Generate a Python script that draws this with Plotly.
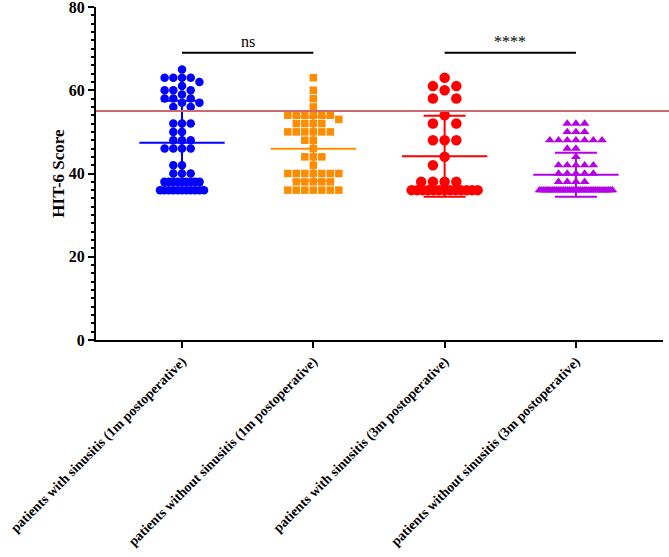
import plotly.graph_objects as go
from collections import Counter
import math

# ---------------- data ----------------
categories = [
    "patients with sinusitis (1m postoperative)",
    "patients without sinusitis (1m postoperative)",
    "patients with sinusitis (3m postoperative)",
    "patients without sinusitis (3m postoperative)",
]

# HIT-6 scores (distinct values) and how many patients had each
blue_scores = [65, 63, 62, 61, 60, 59, 58, 57, 56, 52, 50, 48, 46, 42, 40, 38, 36]
blue_counts = [1, 4, 1, 1, 3, 1, 3, 2, 2, 3, 2, 3, 4, 2, 3, 9, 11]

orange_scores = [63, 60, 58, 56, 54, 53, 52, 50, 48, 46, 44, 42, 40, 38, 36]
orange_counts = [1, 1, 1, 1, 6, 1, 4, 6, 2, 1, 3, 1, 7, 5, 7]

red_scores = [63, 61, 60, 58, 54, 52, 48, 44, 42, 38, 36]
red_counts = [1, 2, 1, 2, 1, 2, 3, 1, 1, 4, 13]

purple_scores = [52, 50, 48, 46, 44, 42, 40, 38, 36]
purple_counts = [3, 3, 7, 2, 1, 5, 5, 4, 40]

threshold = 55
comparisons = [(0, 1, "ns"), (2, 3, "****")]
comparison_level = 69

y_title = "HIT-6 Score"

# ---------------- styling ----------------
colors = ["#0000FF", "#FF8C00", "#FF0000", "#B400E6"]
symbols = ["circle", "square", "circle", "triangle-up"]
msizes = [8.5, 7.5, 10.5, 8.5]
diam = [8, 7.5, 10, 7.5]
slot = [8.7, 8.5, 11.7, 8.7]
serif = "Liberation Serif, Times New Roman, serif"

W, H = 669, 557
ML, MR, MT, MB = 96, 6, 7, 217
xr = [-0.655, 3.663]
yr = [0, 80]
ppx = (W - ML - MR) / (xr[1] - xr[0])
ppy = (H - MT - MB) / (yr[1] - yr[0])


def expand(scores, counts):
    out = []
    for s, c in zip(scores, counts):
        out += [s] * c
    return out


def swarm(vals, d, s):
    """Beeswarm-like layout on a grid of slots; returns x offsets in axis units."""
    cnt = Counter(vals)
    halfw = 36.5
    xs, ys = [], []
    for v in sorted(cnt, reverse=True):
        n = cnt[v]
        if n > 8:
            sp = min(d * 0.55, 2 * halfw / (n - 1))
            for i in range(n):
                xs.append((i - (n - 1) / 2) * sp)
                ys.append(v)
    placed = []
    for v in sorted([v for v in vals if cnt[v] <= 8], reverse=True):
        y = v * ppy
        k = 0
        while True:
            off = ((k + 1) // 2) * s * (-1 if k % 2 else 1)
            if all(not (abs(off - px) < s * 0.9 and abs(y - py) < d * 0.9) for px, py in placed):
                break
            k += 1
        placed.append((off, y))
        xs.append(off)
        ys.append(v)
    return [x / ppx for x in xs], ys


groups = [
    expand(blue_scores, blue_counts),
    expand(orange_scores, orange_counts),
    expand(red_scores, red_counts),
    expand(purple_scores, purple_counts),
]

fig = go.Figure()

for gi, vals in enumerate(groups):
    offs, ys = swarm(vals, diam[gi], slot[gi])
    fig.add_trace(go.Scatter(
        x=[gi + o for o in offs], y=ys, mode="markers",
        marker=dict(symbol=symbols[gi], size=msizes[gi], color=colors[gi], line=dict(width=0)),
        showlegend=False, hoverinfo="y", cliponaxis=False,
    ))

for gi, vals in enumerate(groups):
    n = len(vals)
    m = sum(vals) / n
    sd = math.sqrt(sum((v - m) ** 2 for v in vals) / (n - 1))
    mw, cw = 0.325, 0.16
    xs = [gi - mw, gi + mw, None, gi, gi, None, gi - cw, gi + cw, None, gi - cw, gi + cw]
    ys = [m, m, None, m - sd, m + sd, None, m + sd, m + sd, None, m - sd, m - sd]
    fig.add_trace(go.Scatter(x=xs, y=ys, mode="lines", line=dict(color=colors[gi], width=2),
                             showlegend=False, hoverinfo="skip"))

for a, b, label in comparisons:
    fig.add_trace(go.Scatter(x=[a, b], y=[comparison_level, comparison_level], mode="lines",
                             line=dict(color="black", width=2), showlegend=False, hoverinfo="skip"))
    fig.add_annotation(x=(a + b) / 2, y=comparison_level, text=label, showarrow=False,
                       yshift=11, font=dict(family=serif, size=16, color="black"))

fig.add_shape(type="line", xref="paper", yref="y", x0=0, x1=1.012, y0=threshold, y1=threshold,
              line=dict(color="#D06A6A", width=2), layer="above")

fig.update_layout(
    width=W, height=H,
    margin=dict(l=ML, r=MR, t=MT, b=MB, autoexpand=False),
    paper_bgcolor="white", plot_bgcolor="white",
    showlegend=False,
    xaxis=dict(
        range=xr, tickvals=[0, 1, 2, 3], ticktext=categories, tickangle=-45,
        ticks="outside", ticklen=6, tickwidth=2, tickcolor="black",
        automargin=False, ticklabeloverflow="allow",
        showline=True, linewidth=2, linecolor="black", showgrid=False, zeroline=False,
        tickfont=dict(family=serif, size=13.8, color="black", weight="bold"),
    ),
    yaxis=dict(
        range=yr, tickvals=[0, 20, 40, 60, 80], ticklabeloverflow="allow",
        automargin=False,
        ticks="outside", ticklen=6, tickwidth=2, tickcolor="black",
        minor=dict(dtick=2, ticks="outside", ticklen=3, tickwidth=1.5, tickcolor="black"),
        showline=True, linewidth=2, linecolor="black", showgrid=False, zeroline=False,
        tickfont=dict(family=serif, size=16, color="black", weight="bold"),
        title=dict(text=y_title, standoff=0,
                   font=dict(family=serif, size=17, color="black", weight="bold")),
    ),
)

fig.write_html("out.html")
